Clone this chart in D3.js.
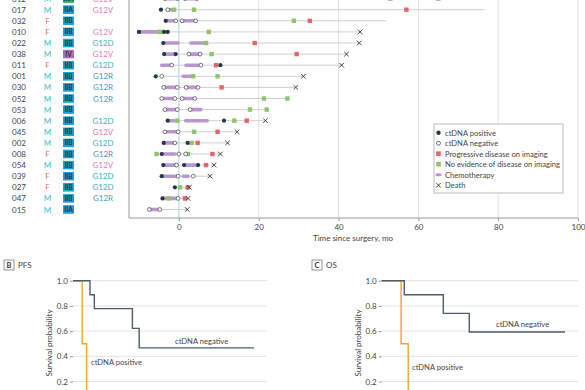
<!DOCTYPE html>
<html><head><meta charset="utf-8">
<script src="https://cdn.jsdelivr.net/npm/d3@7"></script>
<style>
body{margin:0;background:#fff;}
svg{display:block;font-family:Lato,"Open Sans",sans-serif;}
</style></head>
<body><svg id="c" width="585" height="390"></svg>
<script>
// ---------- Data: panel A (swimmer plot) ----------
const ids    = ["012","017","032","010","022","038","011","001","030","052","053","006","045","002","008","054","039","027","047","015"];
const sexes  = ["M","M","F","F","M","M","F","M","M","M","M","M","M","M","F","M","F","F","M","M"];
const stages = ["IIIA","IIA","IIB","IIB","IIB","IV","IIB","IIB","IIB","IIB","IIB","IIB","IIB","IIB","IIB","IIB","IIB","IIB","IIB","IIA"];
const krasMut = ["G12V","G12V","","G12V","G12D","G12V","G12D","G12R","G12R","G12R","","G12D","G12V","G12D","G12R","G12V","G12D","G12D","G12R",""];
const lineStart = [-3.5,-4.5,-3.3,-10,-3.9,-3.7,-4.3,-5.8,-3.8,-4.3,-3.5,-2.8,-3.5,-3.8,-5.6,-3.9,-4.3,-1,-4.1,-7.4];
const lineEnd   = [80,76.7,52,45.4,45.2,42,40.8,31.2,29.3,27.2,22,21.7,14.6,12.2,10.4,8.8,7.8,2.6,2.3,2.1];
const chemo = [["012",-3.3,-0.5],["012",1.5,4.5],["017",-2.6,-1.2],["032",-3.3,-0.8],["032",0.8,4.2],
  ["010",-10,-4.2],["022",-3.9,-0.2],["022",3.0,6.8],["038",-3.7,-0.8],["038",2.5,5.3],
  ["011",-4.3,-1.8],["011",1.8,5.5],["001",1.1,3.2],["030",-3.8,-0.4],["030",1.8,4.8],
  ["052",-4.3,-1],["052",0.8,4],["053",-3.5,-0.4],["053",2.8,5.5],["006",-2.5,-1.2],["006",1.7,7.1],
  ["045",-3.5,-0.2],["002",-3.8,-1],["008",-4.3,-1],["054",-3.9,-0.6],["054",1.3,4.8],
  ["039",-4.3,-0.4],["039",1.1,2.3],["047",-4.1,-0.4],["015",-7.4,-4.8]];
const ctPositive = [["017",-4.5],["032",-3.3],["010",-10],["010",-3.7],["010",-2.8],["022",-3.9],["038",-3.7],["038",-0.8],
  ["011",10.4],["001",-5.8],["006",-2.8],["006",11.3],["002",-3.8],["002",2.2],["008",-4.3],["054",-3.9],["054",1.3],["054",4.8],
  ["039",-4.3],["027",-1],["047",-4.1]];
const ctNegative = [["012",-3.5],["012",-0.3],["012",1.5],["012",4.5],["017",-2.8],["032",-0.8],["032",0.8],["032",4.2],
  ["038",2.5],["038",5.3],["011",-1.8],["011",5.5],["001",-4.3],["030",-3.8],["030",-0.4],["030",1.8],["030",4.8],
  ["052",-4.3],["052",-1],["052",0.8],["052",4],["053",-3.5],["053",-0.4],["053",2.8],["045",-3.5],["045",-0.2],
  ["002",-1],["008",0],["008",1.7],["054",-0.6],["039",-0.2],["039",3.6],["047",-0.2],["015",-7.4],["015",-4.8]];
const progression = [["017",57],["032",32.8],["022",19],["038",29.5],["011",9.3],["030",10.7],["006",17],["045",9.7],
  ["002",4.7],["008",8.4],["054",6.8],["027",2.2],["047",1.5]];
const noEvidence = [["012",53],["012",65],["017",-1.2],["017",3.8],["032",28.8],["010",-5],["010",-4.4],["010",7.5],
  ["022",6.8],["038",8.2],["001",3.6],["001",9.7],["052",21.3],["052",27.2],["053",17.8],["053",22],["006",-0.4],
  ["006",13.9],["045",3.8],["002",3.2],["008",-5.6],["008",2.3],["027",0.3],["047",-2.5]];
const deaths = [["010",45.4],["022",45.2],["038",42],["011",40.8],["001",31.2],["030",29.3],["006",21.7],["045",14.6],
  ["002",12.2],["008",10.4],["054",8.8],["039",7.8],["027",2.6],["047",2.3],["015",2.1]];
const xTicksA = [0,20,40,60,80,100];
const legendLabels = ["ctDNA positive","ctDNA negative","Progressive disease on imaging","No evidence of disease on imaging","Chemotherapy","Death"];

// ---------- Data: panels B and C (Kaplan-Meier) ----------
const kmTicks = [0.2,0.4,0.6,0.8,1.0];
const pfsNegT = [0,7.0,8.8,24.5,27.3,74.6];
const pfsNegS = [1,0.889,0.778,0.622,0.467,0.467];
const pfsPosT = [0,3.8,5.6];
const pfsPosS = [1,0.5,0];
const osNegT = [0,9.2,25.1,35.7,74.7];
const osNegS = [1,0.889,0.741,0.593,0.593];
const osPosT = [0,7.9,10.8];
const osPosS = [1,0.5,0];

// ---------- Styles ----------
const C = {pos:"#22384a", neg:"#444", prog:"#e5636b", ned:"#8fc46c", chemo:"#b996cf", death:"#333",
  M:"#3bbcc4", F:"#ee6e6b", G12D:"#35b4c6", G12R:"#3b9dd2", G12V:"#e07cb5",
  IIA:"#1f9fd9", IIB:"#1f9fd9", IV:"#b56bb4", IIIA:"#2fae72", grid:"#e3e3e3", zero:"#a9cfe3",
  kmPos:"#f2a234", kmNeg:"#4b5d6b", text:"#444"};

const svg = d3.select("#c");

// ---------- Panel A ----------
const x = d3.scaleLinear().domain([-12.5,100]).range([129,578]);
const y = d3.scalePoint().domain(ids).range([-1.4,209.5]);
const A = svg.append("g");
const plotBottom = 218;

// gridlines
A.selectAll("line.grid").data(xTicksA.filter(d=>d!==0)).join("line")
  .attr("x1",d=>x(d)).attr("x2",d=>x(d)).attr("y1",-5).attr("y2",plotBottom)
  .attr("stroke",C.grid).attr("stroke-width",1);
A.append("line").attr("x1",x(0)).attr("x2",x(0)).attr("y1",-5).attr("y2",plotBottom)
  .attr("stroke",C.zero).attr("stroke-width",1);
// border (left + bottom axis)
A.append("line").attr("x1",129).attr("x2",129).attr("y1",-5).attr("y2",plotBottom).attr("stroke","#999");
const axA = d3.axisBottom(x).tickValues(xTicksA).tickSize(3).tickPadding(3);
const gAx = A.append("g").attr("transform",`translate(0,${plotBottom})`).call(axA);
gAx.select(".domain").attr("stroke","#999").attr("d","M129,0H578");
gAx.selectAll(".tick line").attr("stroke","#999");
gAx.selectAll(".tick text").attr("fill",C.text).style("font-size","8px").style("font-family","Lato");
A.append("text").attr("x",353).attr("y",241).attr("text-anchor","middle").attr("fill",C.text)
  .style("font-size","8px").text("Time since surgery, mo");

// table columns
A.selectAll("text.id").data(ids).join("text").attr("x",12).attr("y",d=>y(d)+3)
  .attr("fill",C.text).style("font-size","8px").text(d=>d);
A.selectAll("text.sex").data(ids).join("text").attr("x",47.5).attr("y",d=>y(d)+3)
  .attr("text-anchor","middle").attr("fill",(d,i)=>C[sexes[i]]).style("font-size","8px").text((d,i)=>sexes[i]);
A.selectAll("rect.badge").data(ids).join("rect").attr("x",63).attr("y",d=>y(d)-4.3).attr("width",11).attr("height",8.6)
  .attr("fill",(d,i)=>C[stages[i]]);
A.selectAll("text.badge").data(ids).join("text").attr("x",68.5).attr("y",d=>y(d)+2.5)
  .attr("text-anchor","middle").attr("fill","#1a2f48").style("font-size","6.5px").style("font-weight","bold")
  .text((d,i)=>stages[i]);
A.selectAll("text.kras").data(ids).join("text").attr("x",103).attr("y",d=>y(d)+3)
  .attr("text-anchor","middle").attr("fill",(d,i)=>C[krasMut[i]]||C.text).style("font-size","8px").text((d,i)=>krasMut[i]);

// follow-up lines
A.selectAll("line.fu").data(ids).join("line")
  .attr("x1",(d,i)=>x(lineStart[i])).attr("x2",(d,i)=>x(lineEnd[i]))
  .attr("y1",d=>y(d)).attr("y2",d=>y(d)).attr("stroke","#cfcfcf").attr("stroke-width",1);
// chemo bars
A.selectAll("line.chemo").data(chemo).join("line")
  .attr("x1",d=>x(d[1])).attr("x2",d=>x(d[2])).attr("y1",d=>y(d[0])).attr("y2",d=>y(d[0]))
  .attr("stroke",C.chemo).attr("stroke-width",3.6).attr("stroke-linecap","round");
// squares
const sq = 4.4;
A.selectAll("rect.ned").data(noEvidence).join("rect")
  .attr("x",d=>x(d[1])-sq/2).attr("y",d=>y(d[0])-sq/2).attr("width",sq).attr("height",sq).attr("fill",C.ned);
A.selectAll("rect.prog").data(progression).join("rect")
  .attr("x",d=>x(d[1])-sq/2).attr("y",d=>y(d[0])-sq/2).attr("width",sq).attr("height",sq).attr("fill",C.prog);
// dots
A.selectAll("circle.neg").data(ctNegative).join("circle")
  .attr("cx",d=>x(d[1])).attr("cy",d=>y(d[0])).attr("r",1.9).attr("fill","#fff").attr("stroke",C.neg).attr("stroke-width",0.7);
A.selectAll("circle.pos").data(ctPositive).join("circle")
  .attr("cx",d=>x(d[1])).attr("cy",d=>y(d[0])).attr("r",2.1).attr("fill",C.pos);
// deaths
const xs = 2.3;
const gD = A.selectAll("g.death").data(deaths).join("g").attr("transform",d=>`translate(${x(d[1])},${y(d[0])})`);
gD.append("path").attr("d",`M${-xs},${-xs}L${xs},${xs}M${-xs},${xs}L${xs},${-xs}`).attr("stroke",C.death).attr("stroke-width",0.9);

// legend
const L = svg.append("g").attr("transform","translate(434,124)");
L.append("rect").attr("width",129).attr("height",69).attr("fill","#fff").attr("stroke","#aaa").attr("stroke-width",0.8);
const lg = L.selectAll("g.li").data(legendLabels).join("g").attr("transform",(d,i)=>`translate(4.5,${8.7+i*10.5})`);
lg.each(function(d,i){
  const g=d3.select(this);
  if(i===0) g.append("circle").attr("r",2.2).attr("fill",C.pos);
  if(i===1) g.append("circle").attr("r",2).attr("fill","#fff").attr("stroke",C.neg).attr("stroke-width",0.8);
  if(i===2) g.append("rect").attr("x",-2.3).attr("y",-2.3).attr("width",4.6).attr("height",4.6).attr("fill",C.prog);
  if(i===3) g.append("rect").attr("x",-2.3).attr("y",-2.3).attr("width",4.6).attr("height",4.6).attr("fill",C.ned);
  if(i===4) g.append("line").attr("x1",-1.5).attr("x2",1.5).attr("stroke",C.chemo).attr("stroke-width",3).attr("stroke-linecap","round");
  if(i===5) g.append("path").attr("d","M-2.3,-2.3L2.3,2.3M-2.3,2.3L2.3,-2.3").attr("stroke",C.death).attr("stroke-width",0.9);
  g.append("text").attr("x",6.5).attr("y",2.8).attr("fill",C.text).style("font-size","7.6px").text(d);
});

// ---------- Panels B and C ----------
function km(cfg){
  const g = svg.append("g");
  const kx = d3.scaleLinear().domain([0,80]).range([cfg.x0,cfg.x1]);
  const ky = d3.scaleLinear().domain([0,1]).range([406.7,280.7]);
  // panel label
  g.append("rect").attr("x",cfg.lx).attr("y",260).attr("width",10).attr("height",10)
    .attr("fill","#fff").attr("stroke","#777").attr("stroke-width",0.8);
  g.append("text").attr("x",cfg.lx+5).attr("y",268).attr("text-anchor","middle").attr("fill","#333")
    .style("font-size","7.5px").style("font-weight","bold").text(cfg.letter);
  g.append("text").attr("x",cfg.lx+14).attr("y",268).attr("fill",C.text).style("font-size","8px").text(cfg.title);
  // grid
  g.selectAll("line.kg").data(kmTicks).join("line").attr("x1",cfg.x0).attr("x2",cfg.x1)
    .attr("y1",d=>ky(d)).attr("y2",d=>ky(d)).attr("stroke",C.grid);
  const ax = d3.axisLeft(ky).tickValues(kmTicks).tickFormat(d3.format(".1f")).tickSize(3).tickPadding(2);
  const ga = g.append("g").attr("transform",`translate(${cfg.x0},0)`).call(ax);
  ga.select(".domain").remove();
  ga.selectAll(".tick line").attr("stroke","#999");
  ga.selectAll(".tick text").attr("fill",C.text).style("font-size","8px").style("font-family","Lato");
  g.append("text").attr("transform",`translate(${cfg.x0-21},343) rotate(-90)`).attr("text-anchor","middle")
    .attr("fill",C.text).style("font-size","8px").text("Survival probability");
  const line = d3.line().x(d=>kx(d[0])).y(d=>ky(d[1])).curve(d3.curveStepAfter);
  g.append("path").datum(d3.zip(cfg.posT,cfg.posS)).attr("d",line).attr("fill","none")
    .attr("stroke",C.kmPos).attr("stroke-width",1.4);
  g.append("path").datum(d3.zip(cfg.negT,cfg.negS)).attr("d",line).attr("fill","none")
    .attr("stroke",C.kmNeg).attr("stroke-width",1.4);
  g.append("text").attr("x",cfg.negLab[0]).attr("y",cfg.negLab[1]).attr("fill",C.text).style("font-size","7.6px").text("ctDNA negative");
  g.append("text").attr("x",cfg.posLab[0]).attr("y",cfg.posLab[1]).attr("fill",C.text).style("font-size","7.6px").text("ctDNA positive");
}
km({x0:73,x1:267,lx:4,letter:"B",title:"PFS",negT:pfsNegT,negS:pfsNegS,posT:pfsPosT,posS:pfsPosS,negLab:[175,343.5],posLab:[91,365]});
km({x0:381.7,x1:578,lx:312,letter:"C",title:"OS",negT:osNegT,negS:osNegS,posT:osPosT,posS:osPosS,negLab:[496,327],posLab:[412,369.5]});
</script></body></html>
